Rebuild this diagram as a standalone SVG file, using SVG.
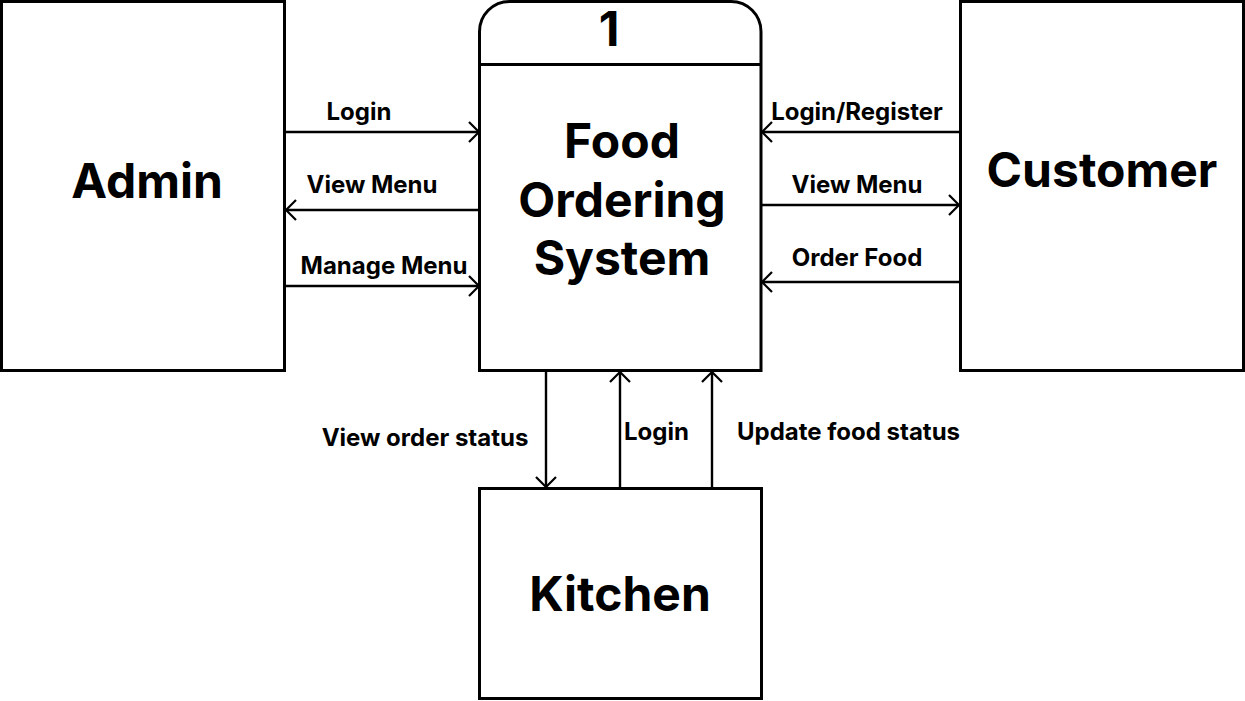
<svg xmlns="http://www.w3.org/2000/svg" width="1245" height="701" viewBox="0 0 1245 701">
<defs>
<marker id="ah" viewBox="0 0 12 22" refX="11" refY="11" markerWidth="12" markerHeight="22" markerUnits="userSpaceOnUse" orient="auto">
<path d="M1,1 L11,11 L1,21" fill="none" stroke="#000" stroke-width="2.2"/>
</marker>
<style>
.box{fill:#fff;stroke:#000;stroke-width:3}
.big{font-family:Inter,"Liberation Sans",sans-serif;font-weight:700;font-size:48px;text-anchor:middle;fill:#000}
.lbl{font-family:Inter,"Liberation Sans",sans-serif;font-weight:700;font-size:24px;fill:#000}
.c{stroke:#000;stroke-width:2.4;fill:none;marker-end:url(#ah)}
</style>
</defs>
<rect width="1245" height="701" fill="#fff"/>
<g id="admin">
<rect class="box" x="1.5" y="1.5" width="283" height="369"/>
<text class="big" x="147" y="198">Admin</text>
</g>
<g id="customer">
<rect class="box" x="960.5" y="1.5" width="283" height="369"/>
<text class="big" x="1102" y="187">Customer</text>
</g>
<g id="process">
<path class="box" d="M479.5,370.5 V31.5 A30,30 0 0 1 509.5,1.5 H731 A30,30 0 0 1 761,31.5 V370.5 Z"/>
<line x1="479.5" y1="64.5" x2="761" y2="64.5" stroke="#000" stroke-width="3"/>
<text class="big" x="609" y="46" font-size="43">1</text>
<text class="big" x="622" y="158">Food</text>
<text class="big" x="622" y="217">Ordering</text>
<text class="big" x="622" y="275">System</text>
</g>
<g id="kitchen">
<rect class="box" x="479.5" y="488.5" width="282" height="210"/>
<text class="big" x="620" y="611">Kitchen</text>
</g>
<g id="connectors">
<line class="c" x1="285" y1="132" x2="479" y2="132"/>
<line class="c" x1="479" y1="210" x2="286" y2="210"/>
<line class="c" x1="285" y1="286" x2="479" y2="286"/>
<line class="c" x1="960" y1="132" x2="762" y2="132"/>
<line class="c" x1="761" y1="205" x2="959" y2="205"/>
<line class="c" x1="960" y1="282" x2="762" y2="282"/>
<line class="c" x1="546" y1="371" x2="546" y2="487"/>
<line class="c" x1="620" y1="488" x2="620" y2="372"/>
<line class="c" x1="712" y1="488" x2="712" y2="372"/>
</g>
<g id="labels">
<text class="lbl" x="359" y="120" text-anchor="middle">Login</text>
<text class="lbl" x="372" y="193" text-anchor="middle">View Menu</text>
<text class="lbl" x="384" y="274" text-anchor="middle">Manage Menu</text>
<text class="lbl" x="857" y="120" text-anchor="middle">Login/Register</text>
<text class="lbl" x="857" y="193" text-anchor="middle">View Menu</text>
<text class="lbl" x="857" y="266" text-anchor="middle">Order Food</text>
<text class="lbl" x="425" y="446" text-anchor="middle">View order status</text>
<text class="lbl" x="624" y="440">Login</text>
<text class="lbl" x="737" y="440">Update food status</text>
</g>
</svg>
